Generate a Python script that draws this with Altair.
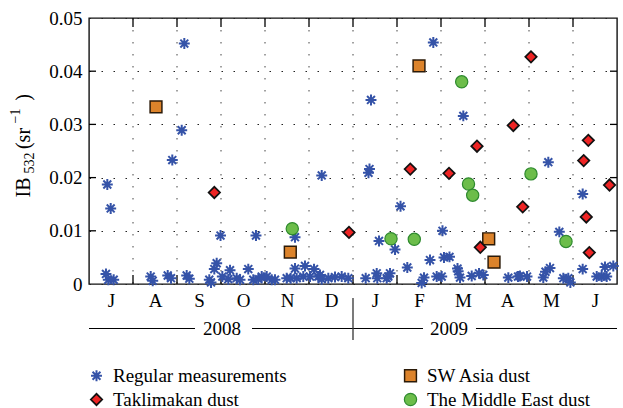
import altair as alt
import pandas as pd

# ---------------- data (x = months since 1 Jul 2008, y = IB532 in sr^-1) -------------
regular_month = [0.416, 0.493, 0.386, 0.439, 0.561,
                 1.402, 1.448, 1.789, 1.864, 1.893,
                 2.107, 2.166, 2.220, 2.280, 2.734, 2.773, 2.848, 2.902, 2.989, 3.030,
                 3.166, 3.205, 3.357, 3.432, 3.620, 3.734, 3.795, 3.848, 3.925,
                 4.039, 4.152, 4.227, 4.493, 4.584, 4.682, 4.682, 4.720, 4.870, 4.909,
                 5.023, 5.114, 5.211, 5.250, 5.289, 5.289, 5.439, 5.591, 5.743, 5.893,
                 6.289, 6.352, 6.375, 6.409, 6.539, 6.552, 6.591, 6.766, 6.802, 6.841, 6.955,
                 7.080, 7.234, 7.561, 7.614, 7.750, 7.825, 7.902,
                 8.016, 8.034, 8.068, 8.193, 8.375, 8.390, 8.432, 8.507, 8.698, 8.864, 8.961,
                 9.530, 9.750, 9.795, 9.955,
                 10.325, 10.375, 10.439, 10.477, 10.689, 10.780, 10.893, 10.940,
                 11.220, 11.220, 11.539, 11.652, 11.727, 11.766, 11.916]
regular_value = [0.0187, 0.0142, 0.0019, 0.0008, 0.0008,
                 0.0014, 0.0006, 0.0016, 0.0011, 0.0233,
                 0.0289, 0.0452, 0.0016, 0.0010, 0.0008, 0.0003, 0.0028, 0.0039, 0.0091, 0.0014,
                 0.0009, 0.0026, 0.0011, 0.0008, 0.0028, 0.0008, 0.0091, 0.0009, 0.0014,
                 0.0014, 0.0008, 0.0008, 0.0011, 0.0011, 0.0029, 0.0088, 0.0011, 0.0014, 0.0034,
                 0.0014, 0.0028, 0.0014, 0.0017, 0.0204, 0.0009, 0.0011, 0.0013, 0.0014, 0.0011,
                 0.0011, 0.0209, 0.0216, 0.0346, 0.0020, 0.0011, 0.0081, 0.0011, 0.0014, 0.0020, 0.0065,
                 0.0146, 0.0031, 0.0002, 0.0012, 0.0045, 0.0454, 0.0014,
                 0.0014, 0.0100, 0.0050, 0.0051, 0.0029, 0.0024, 0.0012, 0.0316, 0.0015, 0.0020, 0.0017,
                 0.0012, 0.0014, 0.0015, 0.0014,
                 0.0012, 0.0023, 0.0229, 0.0030, 0.0098, 0.0011, 0.0011, 0.0003,
                 0.0169, 0.0028, 0.0014, 0.0014, 0.0032, 0.0014, 0.0034]

taklimakan_month = [2.848, 5.909, 7.302, 8.182, 8.818, 8.893, 9.643, 9.857, 10.045,
                    11.243, 11.302, 11.348, 11.370, 11.830]
taklimakan_value = [0.0172, 0.0097, 0.0216, 0.0208, 0.0259, 0.0069, 0.0298, 0.0145, 0.0427,
                    0.0232, 0.0126, 0.0270, 0.0059, 0.0186]

swasia_month = [1.523, 4.575, 7.500, 9.084, 9.205]
swasia_value = [0.0333, 0.0060, 0.0410, 0.0085, 0.0041]

mideast_month = [4.620, 6.864, 7.393, 8.470, 8.625, 8.720, 10.045, 10.841]
mideast_value = [0.0104, 0.0085, 0.0084, 0.0380, 0.0188, 0.0167, 0.0207, 0.0080]

# legend order (filled column by column)
series_names = ["Regular measurements", "Taklimakan dust", "SW Asia dust", "The Middle East dust"]

month_labels = ["J", "A", "S", "O", "N", "D", "J", "F", "M", "A", "M", "J"]
month_centers = [i + 0.5 for i in range(12)]
month_bounds = list(range(1, 12))
y_ticks = [0, 0.01, 0.02, 0.03, 0.04, 0.05]
y_inner_ticks = [0.01, 0.02, 0.03, 0.04]

year_labels = ["2008", "2009"]
year_label_pos = [3.02, 8.18]
year_line_start = [0.0, 3.705, 6.0, 8.795]
year_line_end = [2.409, 6.0, 7.591, 12.0]
year_divider = [6.0]

# ---------------- tables ----------------
rows = []
for m, v in zip(regular_month, regular_value):
    rows.append({"month": m, "value": v, "series": "Regular measurements"})
for m, v in zip(swasia_month, swasia_value):
    rows.append({"month": m, "value": v, "series": "SW Asia dust"})
for m, v in zip(mideast_month, mideast_value):
    rows.append({"month": m, "value": v, "series": "The Middle East dust"})
for m, v in zip(taklimakan_month, taklimakan_value):
    rows.append({"month": m, "value": v, "series": "Taklimakan dust"})
df = pd.DataFrame(rows)

bounds_df = pd.DataFrame({"b": month_bounds})
yt_df = pd.DataFrame({"v": y_inner_ticks})
yl_df = pd.DataFrame({"label": year_labels, "pos": year_label_pos})
ylines_df = pd.DataFrame({"s": year_line_start, "e": year_line_end})
div_df = pd.DataFrame({"d": year_divider})

W, H = 528, 266
FONT = "Liberation Serif"
FS = 19
xscale = alt.Scale(domain=[0, 12], nice=False, zero=False)
yscale = alt.Scale(domain=[0, 0.05], nice=False)

label_expr = "[" + ",".join("'%s'" % s for s in month_labels) + "][floor(datum.value)]"

base_x = alt.X("month:Q", scale=xscale,
               axis=alt.Axis(values=month_centers, labelExpr=label_expr, ticks=False,
                             domain=False, grid=False, title=None, labelPadding=7,
                             labelFont=FONT, labelFontSize=FS, labelColor="black",
                             labelOverlap=False, labelFlush=False))
base_y = alt.Y("value:Q", scale=yscale,
               axis=alt.Axis(values=y_ticks,
                             labelExpr="datum.value == 0 ? '0' : format(datum.value, '.2f')",
                             ticks=False, domain=False, grid=True, gridDash=[1.5, 10.5],
                             gridColor="#222", gridWidth=1, title=None, labelPadding=7,
                             labelFont=FONT, labelFontSize=FS, labelColor="black",
                             labelFlush=False))

star = "M-1,0L1,0M0,-1L0,1M-0.72,-0.72L0.72,0.72M-0.72,0.72L0.72,-0.72"

leg = alt.Legend(title=None, labelFont=FONT, labelFontSize=FS, labelColor="black")

points = alt.Chart(df).mark_point(filled=True, opacity=1).encode(
    x=base_x,
    y=base_y,
    shape=alt.Shape("series:N", legend=leg,
                    scale=alt.Scale(domain=series_names, range=[star, "diamond", "square", "circle"])),
    fill=alt.Fill("series:N", legend=leg,
                  scale=alt.Scale(domain=series_names,
                                  range=["#3553a8", "#ee2424", "#dc832b", "#6cbd4a"])),
    stroke=alt.Stroke("series:N", legend=leg,
                      scale=alt.Scale(domain=series_names,
                                      range=["#3553a8", "#111111", "#2b1a08", "#2e8a2e"])),
    size=alt.Size("series:N", legend=leg,
                  scale=alt.Scale(domain=series_names, range=[120, 150, 110, 80])),
    strokeWidth=alt.StrokeWidth("series:N", legend=leg,
                                scale=alt.Scale(domain=series_names, range=[2.0, 1.2, 1.5, 1.2])),
)

xgrid = alt.Chart(bounds_df).mark_rule(strokeDash=[1.5, 10.5], color="#444", strokeWidth=1).encode(
    x=alt.X("b:Q", scale=xscale))
bot_ticks = alt.Chart(bounds_df).mark_rule(color="black", strokeWidth=1.3).encode(
    x=alt.X("b:Q", scale=xscale), y=alt.value(H), y2=alt.value(H - 9))
top_ticks = alt.Chart(bounds_df).mark_rule(color="black", strokeWidth=1.3).encode(
    x=alt.X("b:Q", scale=xscale), y=alt.value(0), y2=alt.value(9))
left_ticks = alt.Chart(yt_df).mark_rule(color="black", strokeWidth=1.3).encode(
    y=alt.Y("v:Q", scale=yscale), x=alt.value(0), x2=alt.value(7))
right_ticks = alt.Chart(yt_df).mark_rule(color="black", strokeWidth=1.3).encode(
    y=alt.Y("v:Q", scale=yscale), x=alt.value(W - 7), x2=alt.value(W))

year_lines = alt.Chart(ylines_df).mark_rule(color="black", strokeWidth=1).encode(
    x=alt.X("s:Q", scale=xscale), x2="e:Q", y=alt.value(310.5))
year_text = alt.Chart(yl_df).mark_text(font=FONT, fontSize=FS, color="black",
                                        align="center", baseline="alphabetic").encode(
    x=alt.X("pos:Q", scale=xscale), y=alt.value(317), text="label:N")
divider = alt.Chart(div_df).mark_rule(color="#333", strokeWidth=1.3).encode(
    x=alt.X("d:Q", scale=xscale), y=alt.value(280), y2=alt.value(322))

# y-axis title  IB_532 (sr^-1) built from pieces (centred on the reference positions)
title_pieces = pd.DataFrame({
    "t": ["IB", "532", "(sr", "\u22121", ")"],
    "px": [-59, -55, -59, -69, -59],
    "py": [169.5, 145, 120.5, 98, 79.5],
    "fs": [20, 14, 20, 14, 20],
})
title_layers = []
for _, r in title_pieces.iterrows():
    title_layers.append(
        alt.Chart(pd.DataFrame({"t": [r["t"]]})).mark_text(
            font=FONT, fontSize=int(r["fs"]), angle=270, align="center",
            baseline="alphabetic", color="black").encode(
            text="t:N", x=alt.value(float(r["px"])), y=alt.value(float(r["py"]))))

chart = alt.layer(
    xgrid, bot_ticks, top_ticks, left_ticks, right_ticks,
    points, year_lines, year_text, divider, *title_layers
).resolve_scale(x="shared", y="shared").properties(
    width=W, height=H,
    autosize=alt.AutoSizeParams(type="none"),
    padding={"left": 89, "top": 18, "right": 6, "bottom": 124},
).configure(
    font=FONT
).configure_view(
    stroke="#111", strokeWidth=1.4
).configure_legend(
    orient="none", legendX=-2, legendY=348, columns=2, columnPadding=114,
    rowPadding=4, labelFont=FONT, labelFontSize=FS, labelColor="black",
    labelOffset=7, padding=0, title=None, labelLimit=400
)

chart.save("out.html", embed_options={"renderer": "svg", "actions": False})
